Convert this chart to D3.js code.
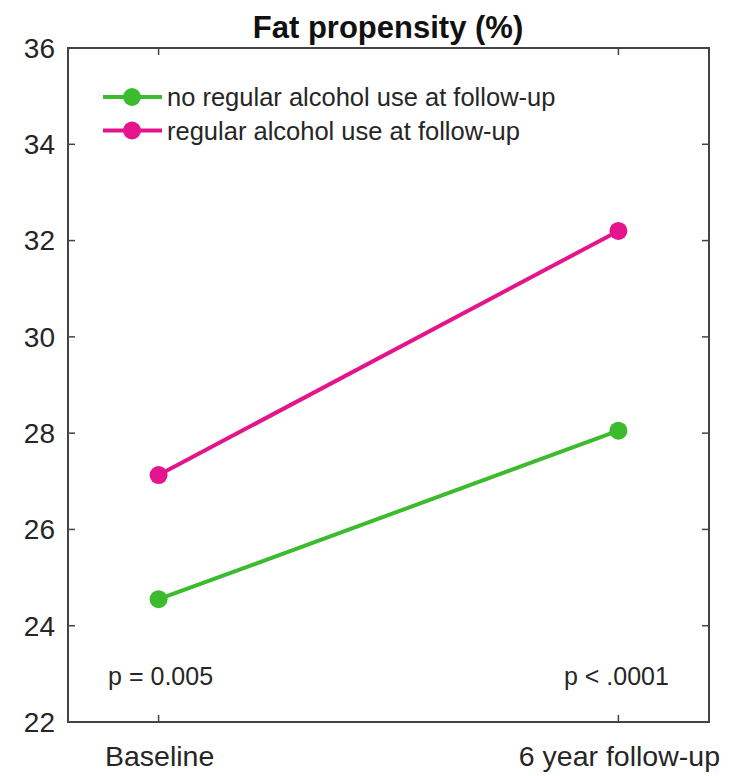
<!DOCTYPE html>
<html><head><meta charset="utf-8">
<script src="https://cdn.jsdelivr.net/npm/d3@7"></script>
<style>body{margin:0;background:#fff;} text{font-family:"Liberation Sans",Arial,sans-serif;}</style>
</head><body>
<svg id="chart" width="736" height="776"></svg>
<script>
const categories = ["Baseline", "6 year follow-up"];
const seriesNames = ["no regular alcohol use at follow-up", "regular alcohol use at follow-up"];
const greenValues = [24.55, 28.05];
const pinkValues = [27.13, 32.2];
const yTicks = [22, 24, 26, 28, 30, 32, 34, 36];
const pLabels = ["p = 0.005", "p < .0001"];
const colors = ["#3dbb2f", "#e4148c"];

const svg = d3.select("#chart");
const L = 68, R = 709, T = 48, B = 722;
const x = d3.scalePoint().domain(categories).range([L, R]).padding(0.197);
const y = d3.scaleLinear().domain([22, 36]).range([B, T]);

const ink = "#262626";
const axisCol = "#444";
// box
svg.append("rect").attr("x", L).attr("y", T).attr("width", R - L).attr("height", B - T)
  .attr("fill", "none").attr("stroke", axisCol).attr("stroke-width", 2);

// y ticks (inward both sides)
yTicks.forEach(v => {
  svg.append("line").attr("x1", L).attr("x2", L + 7).attr("y1", y(v)).attr("y2", y(v)).attr("stroke", axisCol).attr("stroke-width", 1.5);
  svg.append("line").attr("x1", R).attr("x2", R - 7).attr("y1", y(v)).attr("y2", y(v)).attr("stroke", axisCol).attr("stroke-width", 1.5);
  svg.append("text").attr("x", 55).attr("y", y(v)).attr("dy", "0.35em").attr("text-anchor", "end")
    .attr("font-size", 28).attr("fill", ink).text(v);
});
// x ticks
categories.forEach(c => {
  svg.append("line").attr("x1", x(c)).attr("x2", x(c)).attr("y1", B).attr("y2", B - 7).attr("stroke", axisCol).attr("stroke-width", 1.5);
  svg.append("line").attr("x1", x(c)).attr("x2", x(c)).attr("y1", T).attr("y2", T + 7).attr("stroke", axisCol).attr("stroke-width", 1.5);
  svg.append("text").attr("x", x(c) + 1).attr("y", 766).attr("text-anchor", "middle")
    .attr("font-size", 28.5).attr("fill", ink).text(c);
});

// title
svg.append("text").attr("x", 388).attr("y", 38).attr("text-anchor", "middle")
  .attr("font-size", 31).attr("font-weight", "bold").attr("fill", "#111").text("Fat propensity (%)");

// series
const series = [greenValues, pinkValues];
const line = d3.line().x((d, i) => x(categories[i])).y(d => y(d));
series.forEach((vals, s) => {
  svg.append("path").datum(vals).attr("d", line).attr("fill", "none")
    .attr("stroke", colors[s]).attr("stroke-width", 4);
  svg.selectAll(null).data(vals).enter().append("circle")
    .attr("cx", (d, i) => x(categories[i])).attr("cy", d => y(d)).attr("r", 9).attr("fill", colors[s]);
});

// legend
seriesNames.forEach((name, s) => {
  const ly = 97 + s * 33.5;
  svg.append("line").attr("x1", 103).attr("x2", 162).attr("y1", ly).attr("y2", ly)
    .attr("stroke", colors[s]).attr("stroke-width", 4);
  svg.append("circle").attr("cx", 132).attr("cy", ly).attr("r", 9).attr("fill", colors[s]);
  svg.append("text").attr("x", 167).attr("y", ly).attr("dy", "0.36em")
    .attr("font-size", 25.5).attr("fill", ink).text(name);
});

// p-values
categories.forEach((c, i) => {
  svg.append("text").attr("x", x(c) + (i === 0 ? 2 : -2)).attr("y", 685).attr("text-anchor", "middle")
    .attr("font-size", 25).attr("fill", ink).text(pLabels[i]);
});
</script>
</body></html>
